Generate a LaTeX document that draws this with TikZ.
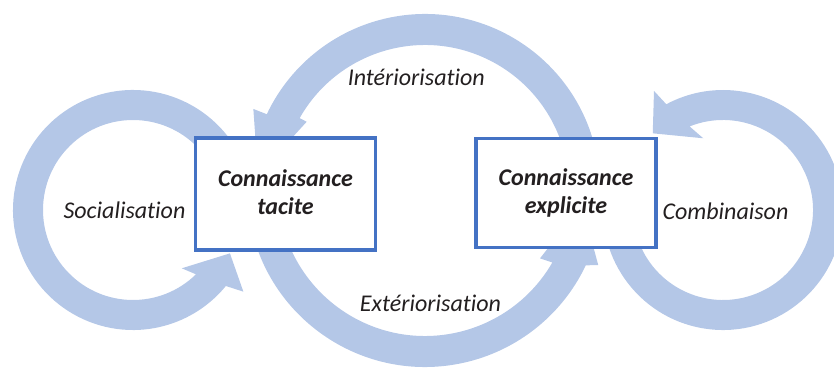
\documentclass[tikz,border=0pt]{standalone}
\usepackage{fontspec}
\setmainfont{Carlito}[Ligatures=NoCommon]
\definecolor{band}{RGB}{180,199,231}
\definecolor{boxline}{RGB}{68,114,196}
\definecolor{ink}{RGB}{35,31,32}
\begin{document}
\begin{tikzpicture}[x=1pt,y=1pt,
  bandshape/.style={fill=band},
  kbox/.style={draw=boxline, line width=3.5pt, fill=white, minimum width=180pt, inner sep=0pt, align=center, text=ink, font=\fontsize{24}{28}\selectfont\bfseries\itshape},
  lbl/.style={text=ink, font=\fontsize{24}{29}\selectfont\itshape, anchor=base, inner sep=0pt}]
\useasboundingbox (0,0) rectangle (834,369);
\clip (0,0) rectangle (834,369);
\coordinate (C1) at (133,159);
\coordinate (C2) at (425,180);
\coordinate (C3) at (723,159);
% left ring (Socialisation)
\fill[bandshape] ([shift={(15:120)}]C1) arc[start angle=15, end angle=320.7, radius=120]
  -- ([shift={(323.5:137.3)}]C1) -- ([shift={(335.9:106.2)}]C1) -- ([shift={(309.9:76)}]C1)
  -- ([shift={(314.4:90)}]C1) arc[start angle=314.4, end angle=15, radius=90] -- cycle;
% top arc (Interiorisation)
\fill[bandshape] ([shift={(10:175)}]C2) arc[start angle=10, end angle=154.7, radius=175]
  -- ([shift={(155:189.4)}]C2) -- ([shift={(175.2:167.6)}]C2) -- ([shift={(150.4:136.1)}]C2)
  -- ([shift={(150.5:144)}]C2) arc[start angle=150.5, end angle=10, radius=144] -- cycle;
% bottom arc (Exteriorisation)
\fill[bandshape] ([shift={(190:178)}]C2) arc[start angle=190, end angle=334.6, radius=178]
  -- ([shift={(336.3:189.2)}]C2) -- ([shift={(354.2:157.8)}]C2) -- ([shift={(328.9:134.3)}]C2)
  -- ([shift={(330:147)}]C2) arc[start angle=330, end angle=190, radius=147] -- cycle;
% right ring (Combinaison)
\fill[bandshape] ([shift={(170:120)}]C3) arc[start angle=170, end angle=478.2, radius=120]
  -- ([shift={(480.1:137.6)}]C3) -- ([shift={(492.5:104)}]C3) -- ([shift={(465.4:74.4)}]C3)
  -- ([shift={(471.8:90)}]C3) arc[start angle=471.8, end angle=170, radius=90] -- cycle;
% boxes
\node[kbox, minimum height=112pt] (tacite) at (285.5,175) {Connaissance\\tacite\vphantom{p}};
\node[kbox, minimum height=109pt] (explicite) at (566,175.75) {Connaissance\\explicite};
% labels
\node[lbl] (soc) at (124.5,150.7) {Socialisation};
\node[lbl] (int) at (416.3,283) {Intériorisation};
\node[lbl] (ext) at (430.5,57.3) {Extériorisation};
\node[lbl] (comb) at (725.5,149.7) {Combinaison};
\end{tikzpicture}
\end{document}
